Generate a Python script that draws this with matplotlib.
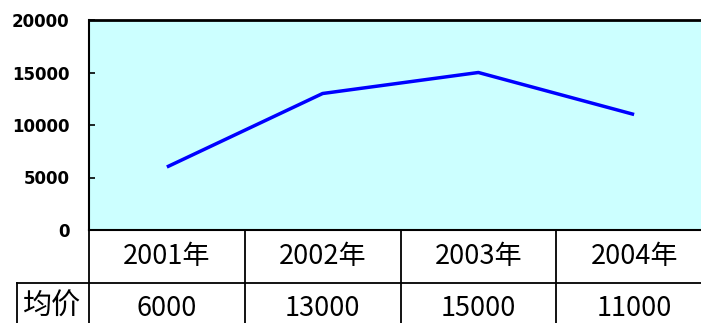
import matplotlib
matplotlib.use("Agg")
import matplotlib.pyplot as plt
import matplotlib.transforms as mtransforms

plt.rcParams['font.family'] = ['Noto Sans CJK SC', 'DejaVu Sans']

years = ["2001年", "2002年", "2003年", "2004年"]
prices = [6000, 13000, 15000, 11000]
row_label = "均价"
y_ticks = [0, 5000, 10000, 15000, 20000]

W, H = 701, 323
fig = plt.figure(figsize=(W / 100, H / 100), dpi=100)
# plot area runs a little past the right edge of the picture
ax = fig.add_axes([89 / W, 1 - 230 / H, (712 - 89) / W, 210 / H])
ax.set_facecolor("#ccffff")

xs = [i + 0.5 for i in range(len(years))]
ax.plot(xs, prices, color="#0000ff", lw=2.5, solid_capstyle="butt")

ax.set_xlim(0, len(years))
ax.set_ylim(0, 20000)
ax.set_xticks([])
ax.set_yticks(y_ticks)
ax.set_yticklabels([str(v) for v in y_ticks], family="DejaVu Sans",
                   fontweight="bold", fontsize=12)
ax.tick_params(axis="y", direction="in", length=4, width=1.2, pad=14)
ax.spines["right"].set_visible(False)
ax.spines["top"].set_linewidth(2)
ax.spines["left"].set_linewidth(1.5)
ax.spines["bottom"].set_linewidth(1.5)

# table under the chart
px = lambda v: 1 - v / H
trans = mtransforms.blended_transform_factory(ax.transData, fig.transFigure)
row1_bot = px(283)
for i in range(len(years) + 1):
    ax.plot([i, i], [px(230), px(330)], color="black", lw=1.3,
            transform=trans, clip_on=False)
fig.add_artist(plt.Line2D([17 / W, 1.02], [row1_bot, row1_bot],
                          color="black", lw=1.3))
fig.add_artist(plt.Line2D([17 / W, 17 / W], [row1_bot, px(330)],
                          color="black", lw=1.3))

for x, yr, p in zip(xs, years, prices):
    ax.text(x, px(256), yr, transform=trans, ha="center", va="center",
            fontsize=19.5)
    ax.text(x, px(309), str(p), transform=trans, ha="center", va="center",
            fontsize=19.5)
fig.text(52 / W, px(307), row_label, ha="center", va="center", fontsize=21)

fig.savefig("out.png", dpi=100)
